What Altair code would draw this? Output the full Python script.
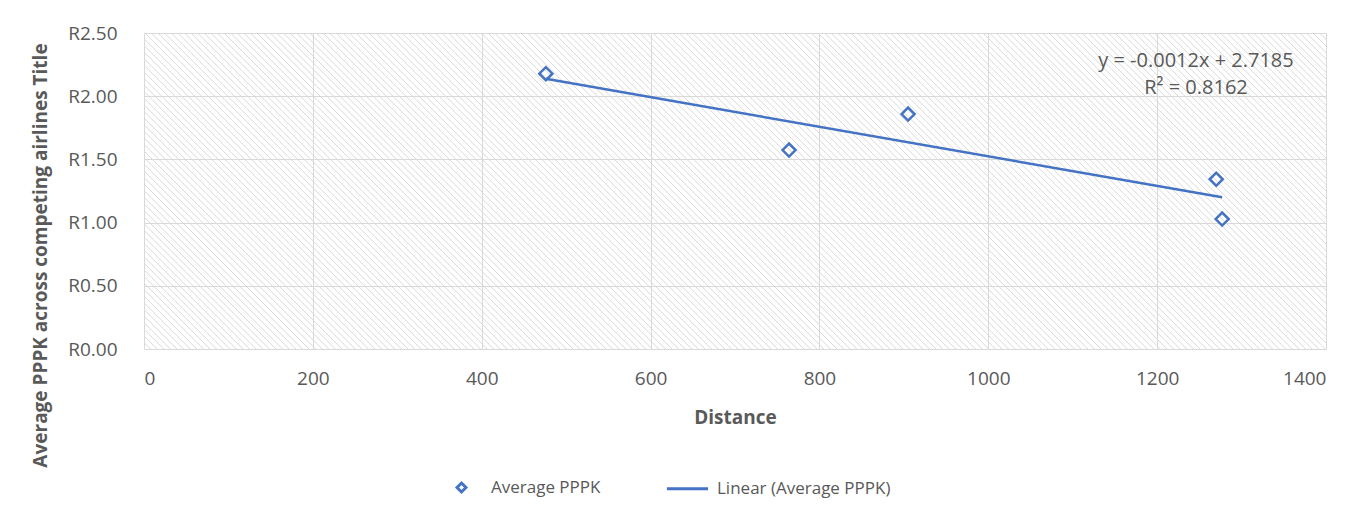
import altair as alt
import pandas as pd

# Data
distance = [476, 764, 905, 1270, 1277]
avg_pppk = [2.178, 1.574, 1.859, 1.343, 1.028]
series_point = "Average PPPK"
series_line = "Linear (Average PPPK)"
eq_lines = ["y = -0.0012x + 2.7185", "R\u00b2 = 0.8162"]
x_ticks = [0, 200, 400, 600, 800, 1000, 1200, 1400]
y_ticks = [0, 0.5, 1.0, 1.5, 2.0, 2.5]

W, H = 1182, 316
BLUE = "#4472C4"
GRID = "#d9d9d9"
TXT = "#595959"
FONT = "Open Sans"

df = pd.DataFrame({"Distance": distance, "PPPK": avg_pppk, "series": series_point})
ann = pd.DataFrame({"label": eq_lines, "row": [0, 1]})

xscale = alt.Scale(domain=[0, 1400], nice=False, zero=True)
yscale = alt.Scale(domain=[0, 2.5], nice=False, zero=True)
cscale = alt.Scale(domain=[series_point, series_line], range=[BLUE, BLUE])
sscale = alt.Scale(domain=[series_point, series_line], range=["diamond", "M-4.6,0L4.6,0"])

xaxis = alt.Axis(values=x_ticks, format="d", grid=True, gridColor=GRID, domain=False, ticks=False,
                 labelFontSize=19, labelColor=TXT, labelFont=FONT, labelPadding=20,
                 title="Distance", titleFont=FONT, titleFontSize=19, titleColor=TXT,
                 titleFontWeight="bold", titlePadding=20, orient="bottom")
yaxis = alt.Axis(values=y_ticks, grid=True, gridColor=GRID, domain=False, ticks=False,
                 labelExpr="'R' + format(datum.value, '.2f')",
                 labelFontSize=19, labelColor=TXT, labelFont=FONT, labelPadding=27,
                 title="Average PPPK across competing airlines Title", titleFont=FONT,
                 titleFontSize=19, titleColor=TXT, titleFontWeight="bold",
                 titleAngle=270, titleX=-104, titleY=222, titleAlign="center",
                 titleBaseline="middle", orient="left")

legend = alt.Legend(
    title=None, orient="none", direction="horizontal", legendX=309, legendY=446,
    labelFont=FONT, labelFontSize=17, labelColor=TXT, labelLimit=400, symbolSize=80,
    symbolStrokeWidth=3, symbolFillColor="white", labelOffset=21, columnPadding=59)

# decorative diagonal hatching of the plot area (45 degrees in pixel space)
span = H * 1400 / W
step = 6.6 * 1400 / W
hatch = alt.Chart(alt.sequence(0, 240, as_="k")).transform_calculate(
    hx0=f"-{span} + datum.k * {step}",
    hx1=f"-{span} + datum.k * {step} + {span}",
    hy0="2.5",
    hy1="0",
).mark_rule(color="#d9d9d9", strokeWidth=1, clip=True).encode(
    x=alt.X("hx0:Q", scale=xscale, axis=xaxis),
    x2="hx1:Q",
    y=alt.Y("hy0:Q", scale=yscale, axis=yaxis),
    y2="hy1:Q",
)

base = alt.Chart(df)

trend = base.transform_regression("Distance", "PPPK").transform_calculate(
    series=f"'{series_line}'"
).mark_line(strokeWidth=2.5).encode(
    x=alt.X("Distance:Q", scale=xscale, axis=xaxis),
    y=alt.Y("PPPK:Q", scale=yscale, axis=yaxis),
    color=alt.Color("series:N", scale=cscale, legend=legend),
)

points = base.mark_point(filled=False, size=170, strokeWidth=2.5, opacity=1).encode(
    x=alt.X("Distance:Q", scale=xscale, axis=xaxis),
    y=alt.Y("PPPK:Q", scale=yscale, axis=yaxis),
    color=alt.Color("series:N", scale=cscale, legend=legend),
    shape=alt.Shape("series:N", scale=sscale, legend=legend),
)

text = alt.Chart(ann).transform_calculate(
    ty="datum.row == 0 ? 2.28 : 2.065"
).mark_text(font=FONT, fontSize=20, color=TXT, align="center", baseline="middle").encode(
    x=alt.datum(1246),
    y=alt.Y("ty:Q", scale=yscale, axis=yaxis),
    text="label:N",
)

chart = alt.layer(hatch, trend, points, text).properties(
    width=W, height=H,
    autosize=alt.AutoSizeParams(type="none"),
    padding={"left": 136, "top": 25, "right": 35, "bottom": 151},
    background="white",
).configure_view(stroke=None)

chart.save("out.html", embed_options={"renderer": "svg", "actions": False})
